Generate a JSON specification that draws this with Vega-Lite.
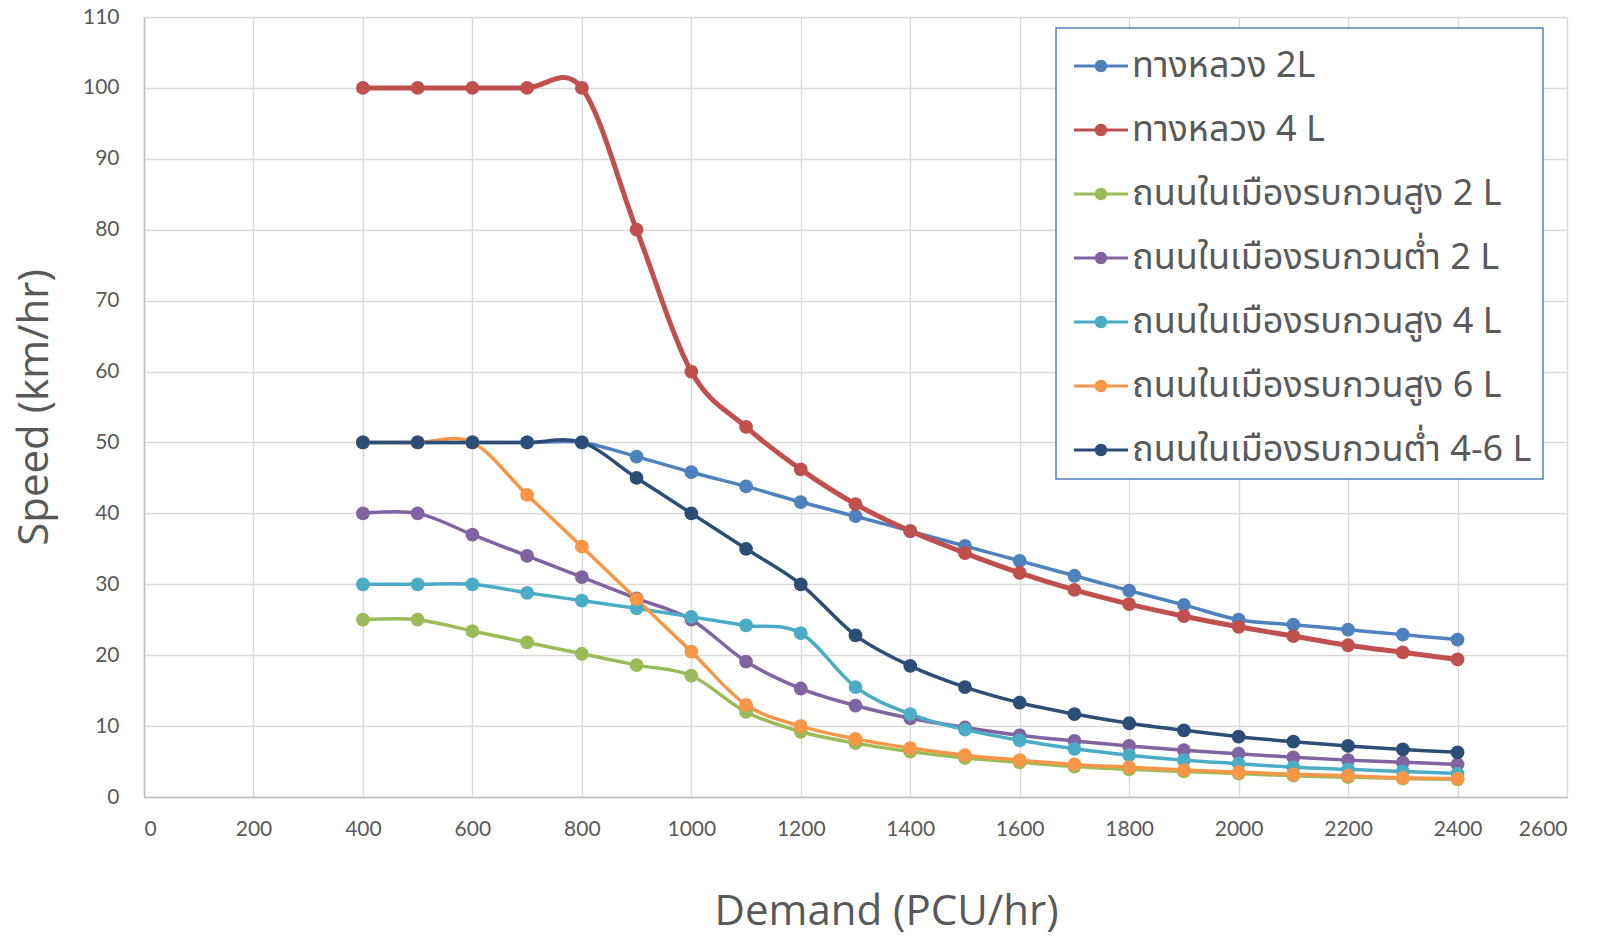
{
  "$schema": "https://vega.github.io/schema/vega-lite/v6.json",
  "width": 1423,
  "height": 780,
  "autosize": {"type": "none"},
  "padding": {"left": 144, "top": 17, "right": 39, "bottom": 140},
  "background": "white",
  "config": {
    "view": {"stroke": null},
    "axis": {
      "domainColor": "#BFBFBF",
      "domainWidth": 1.5,
      "ticks": false,
      "grid": true,
      "gridColor": "#D9D9D9",
      "gridWidth": 1.4,
      "labelFont": "Lato",
      "labelFontSize": 21,
      "labelColor": "#595959",
      "format": "d",
      "titleFont": "Open Sans",
      "titleFontSize": 42,
      "titleFontWeight": "normal",
      "titleColor": "#595959"
    }
  },
  "data": {
    "values": [
      {"series": "ทางหลวง 2L", "demand": 400, "speed": 50},
      {"series": "ทางหลวง 2L", "demand": 500, "speed": 50},
      {"series": "ทางหลวง 2L", "demand": 600, "speed": 50},
      {"series": "ทางหลวง 2L", "demand": 700, "speed": 50},
      {"series": "ทางหลวง 2L", "demand": 800, "speed": 50},
      {"series": "ทางหลวง 2L", "demand": 900, "speed": 48},
      {"series": "ทางหลวง 2L", "demand": 1000, "speed": 45.8},
      {"series": "ทางหลวง 2L", "demand": 1100, "speed": 43.8},
      {"series": "ทางหลวง 2L", "demand": 1200, "speed": 41.6},
      {"series": "ทางหลวง 2L", "demand": 1300, "speed": 39.6},
      {"series": "ทางหลวง 2L", "demand": 1400, "speed": 37.5},
      {"series": "ทางหลวง 2L", "demand": 1500, "speed": 35.4},
      {"series": "ทางหลวง 2L", "demand": 1600, "speed": 33.3},
      {"series": "ทางหลวง 2L", "demand": 1700, "speed": 31.2},
      {"series": "ทางหลวง 2L", "demand": 1800, "speed": 29.1},
      {"series": "ทางหลวง 2L", "demand": 1900, "speed": 27.1},
      {"series": "ทางหลวง 2L", "demand": 2000, "speed": 25.0},
      {"series": "ทางหลวง 2L", "demand": 2100, "speed": 24.3},
      {"series": "ทางหลวง 2L", "demand": 2200, "speed": 23.6},
      {"series": "ทางหลวง 2L", "demand": 2300, "speed": 22.9},
      {"series": "ทางหลวง 2L", "demand": 2400, "speed": 22.2},

      {"series": "ทางหลวง 4 L", "demand": 400, "speed": 100},
      {"series": "ทางหลวง 4 L", "demand": 500, "speed": 100},
      {"series": "ทางหลวง 4 L", "demand": 600, "speed": 100},
      {"series": "ทางหลวง 4 L", "demand": 700, "speed": 100},
      {"series": "ทางหลวง 4 L", "demand": 800, "speed": 100},
      {"series": "ทางหลวง 4 L", "demand": 900, "speed": 80},
      {"series": "ทางหลวง 4 L", "demand": 1000, "speed": 60},
      {"series": "ทางหลวง 4 L", "demand": 1100, "speed": 52.2},
      {"series": "ทางหลวง 4 L", "demand": 1200, "speed": 46.2},
      {"series": "ทางหลวง 4 L", "demand": 1300, "speed": 41.3},
      {"series": "ทางหลวง 4 L", "demand": 1400, "speed": 37.5},
      {"series": "ทางหลวง 4 L", "demand": 1500, "speed": 34.4},
      {"series": "ทางหลวง 4 L", "demand": 1600, "speed": 31.6},
      {"series": "ทางหลวง 4 L", "demand": 1700, "speed": 29.2},
      {"series": "ทางหลวง 4 L", "demand": 1800, "speed": 27.2},
      {"series": "ทางหลวง 4 L", "demand": 1900, "speed": 25.5},
      {"series": "ทางหลวง 4 L", "demand": 2000, "speed": 24.0},
      {"series": "ทางหลวง 4 L", "demand": 2100, "speed": 22.7},
      {"series": "ทางหลวง 4 L", "demand": 2200, "speed": 21.4},
      {"series": "ทางหลวง 4 L", "demand": 2300, "speed": 20.4},
      {"series": "ทางหลวง 4 L", "demand": 2400, "speed": 19.4},

      {"series": "ถนนในเมืองรบกวนสูง 2 L", "demand": 400, "speed": 25},
      {"series": "ถนนในเมืองรบกวนสูง 2 L", "demand": 500, "speed": 25},
      {"series": "ถนนในเมืองรบกวนสูง 2 L", "demand": 600, "speed": 23.4},
      {"series": "ถนนในเมืองรบกวนสูง 2 L", "demand": 700, "speed": 21.8},
      {"series": "ถนนในเมืองรบกวนสูง 2 L", "demand": 800, "speed": 20.2},
      {"series": "ถนนในเมืองรบกวนสูง 2 L", "demand": 900, "speed": 18.6},
      {"series": "ถนนในเมืองรบกวนสูง 2 L", "demand": 1000, "speed": 17.1},
      {"series": "ถนนในเมืองรบกวนสูง 2 L", "demand": 1100, "speed": 12.0},
      {"series": "ถนนในเมืองรบกวนสูง 2 L", "demand": 1200, "speed": 9.2},
      {"series": "ถนนในเมืองรบกวนสูง 2 L", "demand": 1300, "speed": 7.6},
      {"series": "ถนนในเมืองรบกวนสูง 2 L", "demand": 1400, "speed": 6.4},
      {"series": "ถนนในเมืองรบกวนสูง 2 L", "demand": 1500, "speed": 5.5},
      {"series": "ถนนในเมืองรบกวนสูง 2 L", "demand": 1600, "speed": 4.9},
      {"series": "ถนนในเมืองรบกวนสูง 2 L", "demand": 1700, "speed": 4.3},
      {"series": "ถนนในเมืองรบกวนสูง 2 L", "demand": 1800, "speed": 3.9},
      {"series": "ถนนในเมืองรบกวนสูง 2 L", "demand": 1900, "speed": 3.6},
      {"series": "ถนนในเมืองรบกวนสูง 2 L", "demand": 2000, "speed": 3.3},
      {"series": "ถนนในเมืองรบกวนสูง 2 L", "demand": 2100, "speed": 3.0},
      {"series": "ถนนในเมืองรบกวนสูง 2 L", "demand": 2200, "speed": 2.8},
      {"series": "ถนนในเมืองรบกวนสูง 2 L", "demand": 2300, "speed": 2.6},
      {"series": "ถนนในเมืองรบกวนสูง 2 L", "demand": 2400, "speed": 2.5},

      {"series": "ถนนในเมืองรบกวนต่ำ 2 L", "demand": 400, "speed": 40},
      {"series": "ถนนในเมืองรบกวนต่ำ 2 L", "demand": 500, "speed": 40},
      {"series": "ถนนในเมืองรบกวนต่ำ 2 L", "demand": 600, "speed": 37},
      {"series": "ถนนในเมืองรบกวนต่ำ 2 L", "demand": 700, "speed": 34},
      {"series": "ถนนในเมืองรบกวนต่ำ 2 L", "demand": 800, "speed": 31},
      {"series": "ถนนในเมืองรบกวนต่ำ 2 L", "demand": 900, "speed": 28},
      {"series": "ถนนในเมืองรบกวนต่ำ 2 L", "demand": 1000, "speed": 25},
      {"series": "ถนนในเมืองรบกวนต่ำ 2 L", "demand": 1100, "speed": 19.1},
      {"series": "ถนนในเมืองรบกวนต่ำ 2 L", "demand": 1200, "speed": 15.3},
      {"series": "ถนนในเมืองรบกวนต่ำ 2 L", "demand": 1300, "speed": 12.9},
      {"series": "ถนนในเมืองรบกวนต่ำ 2 L", "demand": 1400, "speed": 11.1},
      {"series": "ถนนในเมืองรบกวนต่ำ 2 L", "demand": 1500, "speed": 9.8},
      {"series": "ถนนในเมืองรบกวนต่ำ 2 L", "demand": 1600, "speed": 8.7},
      {"series": "ถนนในเมืองรบกวนต่ำ 2 L", "demand": 1700, "speed": 7.9},
      {"series": "ถนนในเมืองรบกวนต่ำ 2 L", "demand": 1800, "speed": 7.2},
      {"series": "ถนนในเมืองรบกวนต่ำ 2 L", "demand": 1900, "speed": 6.6},
      {"series": "ถนนในเมืองรบกวนต่ำ 2 L", "demand": 2000, "speed": 6.1},
      {"series": "ถนนในเมืองรบกวนต่ำ 2 L", "demand": 2100, "speed": 5.6},
      {"series": "ถนนในเมืองรบกวนต่ำ 2 L", "demand": 2200, "speed": 5.2},
      {"series": "ถนนในเมืองรบกวนต่ำ 2 L", "demand": 2300, "speed": 4.9},
      {"series": "ถนนในเมืองรบกวนต่ำ 2 L", "demand": 2400, "speed": 4.6},

      {"series": "ถนนในเมืองรบกวนสูง 4 L", "demand": 400, "speed": 30},
      {"series": "ถนนในเมืองรบกวนสูง 4 L", "demand": 500, "speed": 30},
      {"series": "ถนนในเมืองรบกวนสูง 4 L", "demand": 600, "speed": 30},
      {"series": "ถนนในเมืองรบกวนสูง 4 L", "demand": 700, "speed": 28.8},
      {"series": "ถนนในเมืองรบกวนสูง 4 L", "demand": 800, "speed": 27.7},
      {"series": "ถนนในเมืองรบกวนสูง 4 L", "demand": 900, "speed": 26.6},
      {"series": "ถนนในเมืองรบกวนสูง 4 L", "demand": 1000, "speed": 25.4},
      {"series": "ถนนในเมืองรบกวนสูง 4 L", "demand": 1100, "speed": 24.2},
      {"series": "ถนนในเมืองรบกวนสูง 4 L", "demand": 1200, "speed": 23.1},
      {"series": "ถนนในเมืองรบกวนสูง 4 L", "demand": 1300, "speed": 15.5},
      {"series": "ถนนในเมืองรบกวนสูง 4 L", "demand": 1400, "speed": 11.7},
      {"series": "ถนนในเมืองรบกวนสูง 4 L", "demand": 1500, "speed": 9.5},
      {"series": "ถนนในเมืองรบกวนสูง 4 L", "demand": 1600, "speed": 8.0},
      {"series": "ถนนในเมืองรบกวนสูง 4 L", "demand": 1700, "speed": 6.8},
      {"series": "ถนนในเมืองรบกวนสูง 4 L", "demand": 1800, "speed": 5.9},
      {"series": "ถนนในเมืองรบกวนสูง 4 L", "demand": 1900, "speed": 5.2},
      {"series": "ถนนในเมืองรบกวนสูง 4 L", "demand": 2000, "speed": 4.7},
      {"series": "ถนนในเมืองรบกวนสูง 4 L", "demand": 2100, "speed": 4.2},
      {"series": "ถนนในเมืองรบกวนสูง 4 L", "demand": 2200, "speed": 3.9},
      {"series": "ถนนในเมืองรบกวนสูง 4 L", "demand": 2300, "speed": 3.6},
      {"series": "ถนนในเมืองรบกวนสูง 4 L", "demand": 2400, "speed": 3.3},

      {"series": "ถนนในเมืองรบกวนสูง 6 L", "demand": 400, "speed": 50},
      {"series": "ถนนในเมืองรบกวนสูง 6 L", "demand": 500, "speed": 50},
      {"series": "ถนนในเมืองรบกวนสูง 6 L", "demand": 600, "speed": 50},
      {"series": "ถนนในเมืองรบกวนสูง 6 L", "demand": 700, "speed": 42.6},
      {"series": "ถนนในเมืองรบกวนสูง 6 L", "demand": 800, "speed": 35.3},
      {"series": "ถนนในเมืองรบกวนสูง 6 L", "demand": 900, "speed": 27.9},
      {"series": "ถนนในเมืองรบกวนสูง 6 L", "demand": 1000, "speed": 20.5},
      {"series": "ถนนในเมืองรบกวนสูง 6 L", "demand": 1100, "speed": 13.0},
      {"series": "ถนนในเมืองรบกวนสูง 6 L", "demand": 1200, "speed": 10.0},
      {"series": "ถนนในเมืองรบกวนสูง 6 L", "demand": 1300, "speed": 8.2},
      {"series": "ถนนในเมืองรบกวนสูง 6 L", "demand": 1400, "speed": 6.9},
      {"series": "ถนนในเมืองรบกวนสูง 6 L", "demand": 1500, "speed": 5.9},
      {"series": "ถนนในเมืองรบกวนสูง 6 L", "demand": 1600, "speed": 5.2},
      {"series": "ถนนในเมืองรบกวนสูง 6 L", "demand": 1700, "speed": 4.6},
      {"series": "ถนนในเมืองรบกวนสูง 6 L", "demand": 1800, "speed": 4.2},
      {"series": "ถนนในเมืองรบกวนสูง 6 L", "demand": 1900, "speed": 3.8},
      {"series": "ถนนในเมืองรบกวนสูง 6 L", "demand": 2000, "speed": 3.5},
      {"series": "ถนนในเมืองรบกวนสูง 6 L", "demand": 2100, "speed": 3.2},
      {"series": "ถนนในเมืองรบกวนสูง 6 L", "demand": 2200, "speed": 3.0},
      {"series": "ถนนในเมืองรบกวนสูง 6 L", "demand": 2300, "speed": 2.7},
      {"series": "ถนนในเมืองรบกวนสูง 6 L", "demand": 2400, "speed": 2.6},

      {"series": "ถนนในเมืองรบกวนต่ำ 4-6 L", "demand": 400, "speed": 50},
      {"series": "ถนนในเมืองรบกวนต่ำ 4-6 L", "demand": 500, "speed": 50},
      {"series": "ถนนในเมืองรบกวนต่ำ 4-6 L", "demand": 600, "speed": 50},
      {"series": "ถนนในเมืองรบกวนต่ำ 4-6 L", "demand": 700, "speed": 50},
      {"series": "ถนนในเมืองรบกวนต่ำ 4-6 L", "demand": 800, "speed": 50},
      {"series": "ถนนในเมืองรบกวนต่ำ 4-6 L", "demand": 900, "speed": 45},
      {"series": "ถนนในเมืองรบกวนต่ำ 4-6 L", "demand": 1000, "speed": 40},
      {"series": "ถนนในเมืองรบกวนต่ำ 4-6 L", "demand": 1100, "speed": 35},
      {"series": "ถนนในเมืองรบกวนต่ำ 4-6 L", "demand": 1200, "speed": 30},
      {"series": "ถนนในเมืองรบกวนต่ำ 4-6 L", "demand": 1300, "speed": 22.8},
      {"series": "ถนนในเมืองรบกวนต่ำ 4-6 L", "demand": 1400, "speed": 18.5},
      {"series": "ถนนในเมืองรบกวนต่ำ 4-6 L", "demand": 1500, "speed": 15.5},
      {"series": "ถนนในเมืองรบกวนต่ำ 4-6 L", "demand": 1600, "speed": 13.3},
      {"series": "ถนนในเมืองรบกวนต่ำ 4-6 L", "demand": 1700, "speed": 11.7},
      {"series": "ถนนในเมืองรบกวนต่ำ 4-6 L", "demand": 1800, "speed": 10.4},
      {"series": "ถนนในเมืองรบกวนต่ำ 4-6 L", "demand": 1900, "speed": 9.4},
      {"series": "ถนนในเมืองรบกวนต่ำ 4-6 L", "demand": 2000, "speed": 8.5},
      {"series": "ถนนในเมืองรบกวนต่ำ 4-6 L", "demand": 2100, "speed": 7.8},
      {"series": "ถนนในเมืองรบกวนต่ำ 4-6 L", "demand": 2200, "speed": 7.2},
      {"series": "ถนนในเมืองรบกวนต่ำ 4-6 L", "demand": 2300, "speed": 6.7},
      {"series": "ถนนในเมืองรบกวนต่ำ 4-6 L", "demand": 2400, "speed": 6.3}
    ]
  },
  "encoding": {
    "x": {
      "field": "demand",
      "type": "quantitative",
      "scale": {"domain": [0, 2600], "nice": false, "zero": true},
      "axis": {
        "values": [0, 200, 400, 600, 800, 1000, 1200, 1400, 1600, 1800, 2000, 2200, 2400, 2600],
        "labelPadding": 21,
        "title": "Demand (PCU/hr)",
        "titleX": 742,
        "titleY": 114,
        "titleAlign": "center",
        "titleBaseline": "middle"
      }
    },
    "y": {
      "field": "speed",
      "type": "quantitative",
      "scale": {"domain": [0, 110], "nice": false},
      "axis": {
        "values": [0, 10, 20, 30, 40, 50, 60, 70, 80, 90, 100, 110],
        "labelPadding": 25,
        "title": "Speed (km/hr)",
        "titleAngle": -90,
        "titleX": -110,
        "titleY": 390,
        "titleAlign": "center",
        "titleBaseline": "middle"
      }
    },
    "color": {
      "field": "series",
      "type": "nominal",
      "scale": {
        "domain": ["ทางหลวง 2L", "ทางหลวง 4 L", "ถนนในเมืองรบกวนสูง 2 L", "ถนนในเมืองรบกวนต่ำ 2 L", "ถนนในเมืองรบกวนสูง 4 L", "ถนนในเมืองรบกวนสูง 6 L", "ถนนในเมืองรบกวนต่ำ 4-6 L"],
        "range": ["#4F81BD", "#C0504D", "#9BBB59", "#8064A2", "#4BACC6", "#F79646", "#2C4D75"]
      },
      "legend": {
        "title": null,
        "orient": "none",
        "legendX": 912,
        "legendY": 11,
        "fillColor": "white",
        "strokeColor": "#4F81BD",
        "padding": 11,
        "labelFont": "Noto Sans Thai, Leelawadee UI, Noto Sans",
        "labelFontSize": 36,
        "labelColor": "#595959",
        "labelLimit": 0,
        "labelOffset": 4,
        "symbolOffset": 7,
        "rowPadding": 19,
        "symbolType": "M-1,-0.06 L1,-0.06 L1,0.06 L-1,0.06 Z M0.23,0 A0.23,0.23 0 1,1 -0.23,0 A0.23,0.23 0 1,1 0.23,0 Z",
        "symbolSize": 2916,
        "symbolStrokeWidth": 0,
        "symbolOpacity": 1,
        "encode": {
          "legend": {
            "update": {"strokeWidth": {"value": 1.5}}
          },
          "symbols": {
            "update": {
              "fill": {"scale": "color", "field": "value"},
              "stroke": {"value": "transparent"}
            }
          }
        }
      }
    }
  },
  "layer": [
    {
      "mark": {"type": "line", "interpolate": "cardinal", "tension": 0},
      "encoding": {
        "strokeWidth": {
          "condition": {"test": "datum.series === 'ทางหลวง 4 L'", "value": 5},
          "value": 3.5
        }
      }
    },
    {
      "mark": {"type": "point", "filled": true, "opacity": 1, "size": 190}
    }
  ]
}
